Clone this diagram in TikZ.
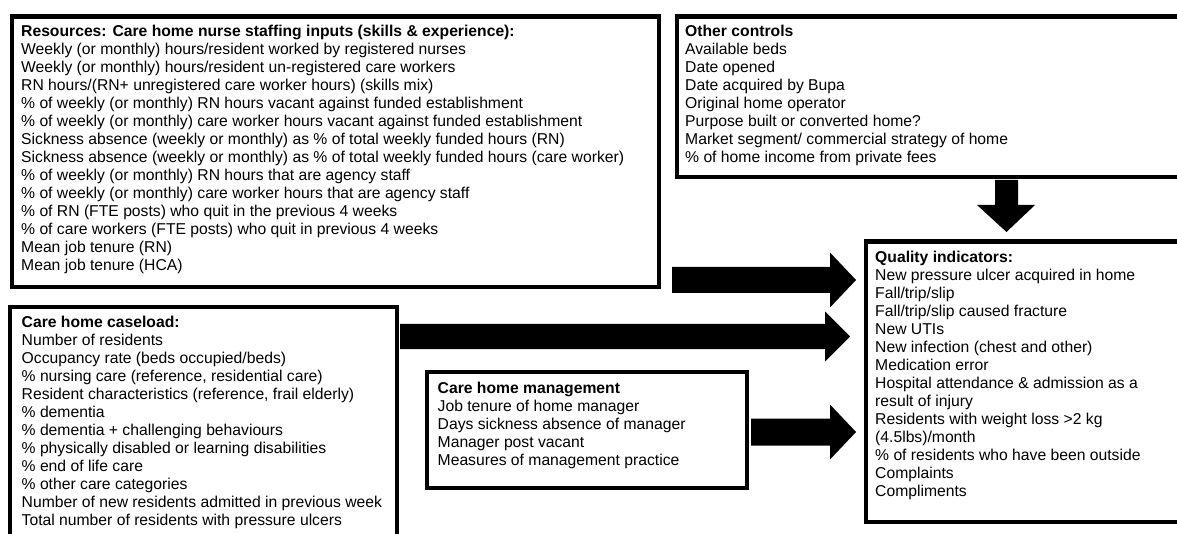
\documentclass[tikz,border=0pt]{standalone}
\usepackage{fontspec}
\setmainfont{Liberation Sans}
\begin{document}
\begin{tikzpicture}[x=1pt,y=-1pt,
  box/.style={draw, line width=4.2pt, inner sep=0pt, anchor=north west},
  txt/.style={anchor=north west, align=left, inner sep=0pt, font=\fontsize{15.7}{18}\selectfont,
    execute at begin node={\rule{0pt}{13pt}}},
  blk/.style={fill=black}]
\useasboundingbox (0,0) rectangle (1177,534);
\clip (0,0) rectangle (1177,534);
% boxes
\node[box, minimum width=647pt, minimum height=270.5pt] (res) at (9.5,14.5) {};
\node[box, minimum width=515.5pt, minimum height=160.5pt] (oth) at (674.5,14.5) {};
\node[box, minimum width=330pt, minimum height=280pt] (qual) at (864,239.5) {};
\node[box, minimum width=387.5pt, minimum height=250pt] (case) at (7.5,305) {};
\node[box, minimum width=320.3pt, minimum height=116pt] (mgmt) at (424.7,370) {};
% texts (first baseline = y + 13)
\node[txt] (restxt) at (21,24.5) {\textbf{Resources: Care home nurse staffing inputs (skills \& experience):}\\
Weekly (or monthly) hours/resident worked by registered nurses\\
Weekly (or monthly) hours/resident un-registered care workers\\
RN hours/(RN+ unregistered care worker hours) (skills mix)\\
\% of weekly (or monthly) RN hours vacant against funded establishment\\
\% of weekly (or monthly) care worker hours vacant against funded establishment\\
Sickness absence (weekly or monthly) as \% of total weekly funded hours (RN)\\
Sickness absence (weekly or monthly) as \% of total weekly funded hours (care worker)\\
\% of weekly (or monthly) RN hours that are agency staff\\
\% of weekly (or monthly) care worker hours that are agency staff\\
\% of RN (FTE posts) who quit in the previous 4 weeks\\
\% of care workers (FTE posts) who quit in previous 4 weeks\\
Mean job tenure (RN)\\
Mean job tenure (HCA)};
\node[txt] (othtxt) at (685,24.5) {\textbf{Other controls}\\
Available beds\\
Date opened\\
Date acquired by Bupa\\
Original home operator\\
Purpose built or converted home?\\
Market segment/ commercial strategy of home\\
\% of home income from private fees};
\node[txt] (qualtxt) at (875,250.5) {\textbf{Quality indicators:}\\
New pressure ulcer acquired in home\\
Fall/trip/slip\\
Fall/trip/slip caused fracture\\
New UTIs\\
New infection (chest and other)\\
Medication error\\
Hospital attendance \& admission as a\\
result of injury\\
Residents with weight loss >2 kg\\
(4.5lbs)/month\\
\% of residents who have been outside\\
Complaints\\
Compliments};
\node[txt] (casetxt) at (21.5,315.5) {\textbf{Care home caseload:}\\
Number of residents\\
Occupancy rate (beds occupied/beds)\\
\% nursing care (reference, residential care)\\
Resident characteristics (reference, frail elderly)\\
\% dementia\\
\% dementia + challenging behaviours\\
\% physically disabled or learning disabilities\\
\% end of life care\\
\% other care categories\\
Number of new residents admitted in previous week\\
Total number of residents with pressure ulcers};
\node[txt] (mgmttxt) at (437.5,381.5) {\textbf{Care home management}\\
Job tenure of home manager\\
Days sickness absence of manager\\
Manager post vacant\\
Measures of management practice};
% block arrows
\fill[blk] (672,267) -- (830,267) -- (830,252.5) -- (856,280) -- (830,307.5) -- (830,293) -- (672,293) -- cycle;
\fill[blk] (400,324) -- (825,324) -- (825,311.5) -- (850,336.5) -- (825,361.5) -- (825,349) -- (400,349) -- cycle;
\fill[blk] (751,418.5) -- (830,418.5) -- (830,404.5) -- (856,432) -- (830,459.5) -- (830,445.5) -- (751,445.5) -- cycle;
\fill[blk] (995,180) -- (1018,180) -- (1018,205) -- (1035,205) -- (1006.5,232) -- (977,205) -- (995,205) -- cycle;
\end{tikzpicture}
\end{document}
